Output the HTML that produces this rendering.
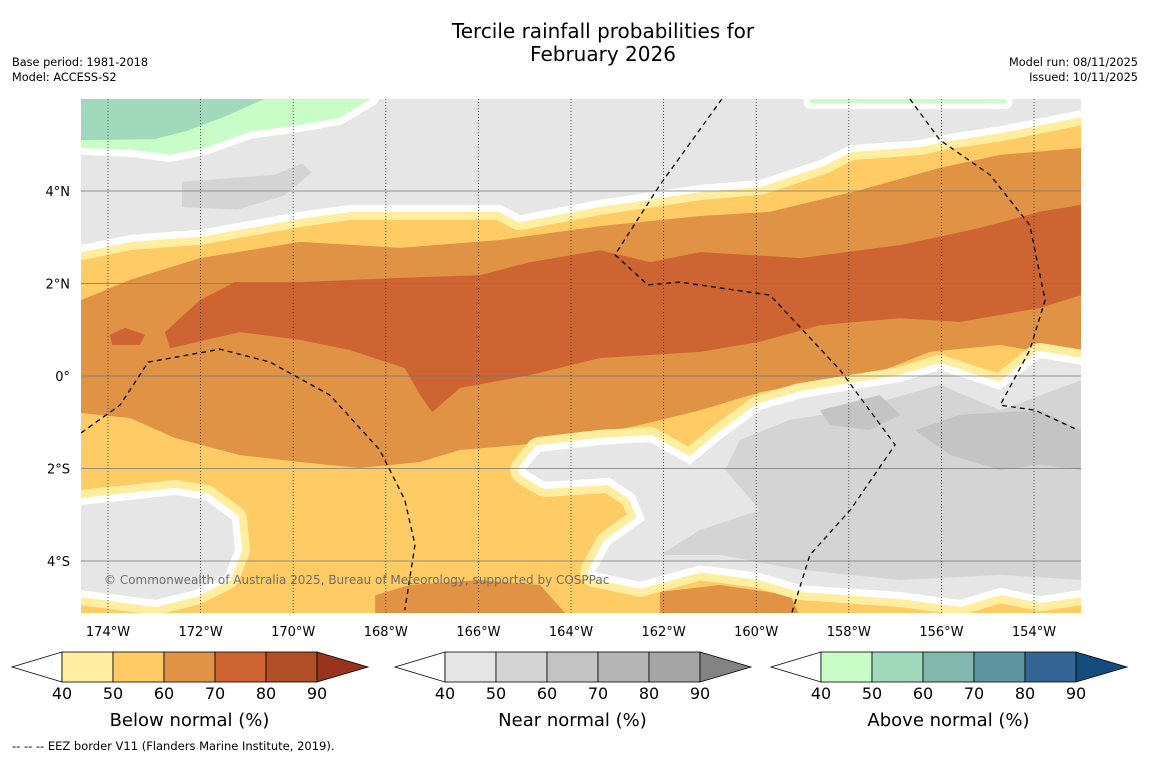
<!DOCTYPE html>
<html><head><meta charset="utf-8"><style>
body{margin:0;background:#fff;width:1150px;height:758px;overflow:hidden;font-family:"DejaVu Sans","Liberation Sans",sans-serif}
svg{position:absolute;left:0;top:0}
</style></head><body>
<svg id="s" width="1150" height="758" xmlns="http://www.w3.org/2000/svg">
<text x="603" y="38" font-size="20" text-anchor="middle">Tercile rainfall probabilities for</text>
<text x="603" y="61" font-size="20" text-anchor="middle">February 2026</text>
<text x="12" y="66" font-size="11.3">Base period: 1981-2018</text>
<text x="12" y="81" font-size="11.3">Model: ACCESS-S2</text>
<text x="1138" y="66" font-size="11.3" text-anchor="end">Model run: 08/11/2025</text>
<text x="1138" y="81" font-size="11.3" text-anchor="end">Issued: 10/11/2025</text>
<defs><clipPath id="mc"><rect x="81" y="99" width="1000" height="514"/></clipPath></defs>
<g id="map" clip-path="url(#mc)"></g>
<g id="axes"></g>
<g id="cbars"></g>
<text x="12" y="750" font-size="11.5">--  --  -- EEZ border V11 (Flanders Marine Institute, 2019).</text>
</svg>
<script>
const lonTicks=[-174,-172,-170,-168,-166,-164,-162,-160,-158,-156,-154];
const latTicks=[4,2,0,-2,-4];
const latLabels=["4°N","2°N","0°","2°S","4°S"];
const cbarTicks=[40,50,60,70,80,90];
const belowColors=["#ffeda0","#fecb65","#e09245","#cd6432","#b04e27","#97331e"];
const nearColors=["#e6e6e6","#d4d4d4","#c4c4c4","#b5b5b5","#a5a5a5","#838383"];
const aboveColors=["#c8fdc8","#a1d9bc","#82b7ae","#5e95a0","#336695","#144c7d"];
const orangeBand=[[-174.58,1.64],[-173.52,2.08],[-172.01,2.55],[-169.85,2.9],[-167.69,2.77],[-165.53,2.94],[-163.37,3.24],[-161.21,3.46],[-159.7,3.55],[-157.76,4.02],[-156.03,4.5],[-154.73,4.78],[-152.98,4.93],[-152.5,4.93],[-152.5,0.45],[-152.98,0.45],[-153.87,0.52],[-154.73,0.67],[-156.25,0.52],[-157.33,0.09],[-159.05,-0.19],[-159.92,-0.35],[-161.21,-0.74],[-162.51,-1.06],[-163.81,-1.34],[-165.1,-1.49],[-166.4,-1.6],[-167.26,-1.86],[-168.56,-1.99],[-169.85,-1.86],[-171.15,-1.71],[-172.55,-1.34],[-173.52,-0.91],[-174.58,-0.8],[-175,-0.8],[-175,1.64]];
const darkOrange=[[-172.77,0.95],[-172.01,1.64],[-171.26,2.03],[-169.85,2.03],[-167.69,2.12],[-165.97,2.18],[-164.89,2.46],[-163.37,2.72],[-162.29,2.46],[-161.21,2.68],[-159.05,2.55],[-156.89,2.83],[-155.17,3.2],[-153.87,3.55],[-152.98,3.7],[-152.5,3.7],[-152.5,1.75],[-152.98,1.75],[-153.87,1.47],[-155.6,1.17],[-156.89,1.25],[-158.62,1.1],[-159.92,0.74],[-161.21,0.52],[-163.37,0.39],[-164.89,0.02],[-166.4,-0.26],[-167.0,-0.78],[-167.26,-0.41],[-167.59,0.17],[-168.77,0.56],[-169.85,0.78],[-171.15,0.95],[-172.66,0.6]];
const darkOrangeBlob=[[-173.96,0.89],[-173.63,1.04],[-173.2,0.89],[-173.31,0.67],[-173.91,0.67]];
const bottomOrange1=[[-168.23,-4.74],[-167.48,-4.52],[-165.97,-4.41],[-164.67,-4.52],[-164.13,-5.12],[-164.13,-5.4],[-168.23,-5.4]];
const bottomOrange2=[[-162.08,-4.67],[-160.78,-4.52],[-159.27,-4.74],[-159.05,-5.2],[-159.05,-5.4],[-162.08,-5.4]];
const topGray=[[-175,6.5],[-152.5,6.5],[-152.5,5.75],[-152.98,5.75],[-154.73,5.4],[-156.03,5.2],[-156.46,5.1],[-157.97,4.99],[-158.62,4.67],[-159.92,4.24],[-161.21,4.13],[-163.37,3.81],[-165.1,3.48],[-165.53,3.7],[-168.77,3.7],[-169.85,3.55],[-172.01,3.16],[-173.52,3.05],[-174.58,2.83],[-175,2.83]];
const topGrayDark=[[-172.4,4.2],[-170.4,4.35],[-169.8,4.6],[-169.6,4.4],[-170.2,3.9],[-171.2,3.6],[-172.4,3.65]];
const topGreen=[[-175,6.5],[-168.3,6.5],[-168.3,6],[-169,5.58],[-169.85,5.43],[-170.93,5.28],[-171.9,4.93],[-172.66,4.78],[-173.52,4.89],[-174.58,4.93],[-175,4.93]];
const topTeal=[[-175,6.5],[-170.6,6.5],[-170.6,6],[-171.5,5.6],[-172.3,5.3],[-173,5.12],[-174.58,5.1],[-175,5.1]];
const topRightGreen=[[-158.84,6.5],[-158.84,5.9],[-154.6,5.9],[-154.6,6.5]];
const brGray=[[-152.5,0.24],[-152.98,0.24],[-153.87,0.39],[-154.73,-0.3],[-156.03,0.13],[-156.89,-0.13],[-159.05,-0.48],[-159.92,-0.74],[-160.78,-1.38],[-161.43,-1.92],[-162.29,-1.43],[-163.37,-1.49],[-164.67,-1.64],[-164.99,-2.03],[-164.56,-2.29],[-163.16,-2.2],[-162.62,-2.57],[-162.4,-3.11],[-163.16,-3.65],[-163.48,-4.24],[-162.51,-4.45],[-161.21,-4.09],[-159.92,-4.26],[-159.05,-4.52],[-156.89,-4.67],[-155.6,-4.84],[-154.73,-4.58],[-153.87,-4.76],[-152.98,-4.63],[-152.5,-4.63]];
const brGrayMid=[[-152.5,-0.09],[-152.98,-0.09],[-154.73,-0.74],[-156.03,-0.19],[-157.97,-0.74],[-159.27,-0.95],[-160.35,-1.38],[-160.67,-2.03],[-159.92,-2.9],[-161.21,-3.33],[-162.08,-3.87],[-160.78,-3.87],[-159.05,-4.19],[-156.89,-4.41],[-154.73,-4.3],[-152.98,-4.41],[-152.5,-4.41]];
const brGrayDark1=[[-158.62,-0.74],[-157.33,-0.41],[-156.89,-0.84],[-157.54,-1.17],[-158.41,-1.06]];
const brGrayDark2=[[-156.57,-1.17],[-155.6,-0.84],[-153.87,-0.74],[-152.98,-1.17],[-152.5,-1.17],[-152.5,-2.03],[-152.98,-2.03],[-153.87,-1.92],[-154.73,-2.03],[-155.81,-1.71]];
const blGray=[[-175,-2.79],[-174.58,-2.79],[-173.52,-2.68],[-172.55,-2.57],[-171.9,-2.68],[-171.32,-3.11],[-171.26,-3.76],[-171.47,-4.3],[-172.12,-4.63],[-172.98,-4.84],[-173.74,-4.74],[-174.58,-4.63],[-175,-4.63]];
const eezA=[[-174.58,-1.23],[-173.74,-0.63],[-173.13,0.3],[-171.58,0.58],[-170.5,0.3],[-169.21,-0.41],[-168.13,-1.6],[-167.59,-2.68],[-167.37,-3.65],[-167.59,-5.06]];
const eezB=[[-160.74,5.99],[-162.08,4.13],[-163.05,2.62],[-162.34,1.97],[-161.65,2.03],[-159.7,1.75],[-158.19,0.13],[-157.0,-1.49],[-157.97,-2.9],[-158.84,-3.87],[-159.23,-5.12]];
const eezC=[[-156.68,5.99],[-156.03,5.1],[-154.95,4.35],[-154.09,3.26],[-153.76,1.64],[-154.09,0.56],[-154.73,-0.63],[-153.98,-0.74],[-153.05,-1.17]];

const NS="http://www.w3.org/2000/svg";
const X=lon=>108+(lon+174)*46.3;
const Y=lat=>376-lat*46.25;
const map=document.getElementById('map'),axes=document.getElementById('axes'),cb=document.getElementById('cbars');
function mk(tag,attrs,parent){const e=document.createElementNS(NS,tag);for(const k in attrs)e.setAttribute(k,attrs[k]);parent.appendChild(e);return e;}
function pts(a){return a.map(p=>X(p[0]).toFixed(1)+','+Y(p[1]).toFixed(1)).join(' ');}
function poly(a,fill,name,strokes){
  (strokes||[]).forEach(s=>{const e=mk('polygon',{points:pts(a),fill:'none',stroke:s[0],'stroke-width':s[1],'stroke-linejoin':'round'},map);
    
    });
  const e=mk('polygon',{points:pts(a),fill:fill},map);
  
  
}
const bg=mk('rect',{x:81,y:99,width:1000,height:514,fill:belowColors[1]},map);


poly(orangeBand,belowColors[2],'below-60-70-region');
poly(darkOrange,belowColors[3],'below-70-80-region');
poly(darkOrangeBlob,belowColors[3],'below-70-80-blob');
poly(bottomOrange1,belowColors[2],'below-60-70-south-patch');
poly(bottomOrange2,belowColors[2],'below-60-70-south-patch-2');
poly(topGray,nearColors[0],'near-normal-north-region',[[belowColors[0],30],['#fff',14]]);
poly(topGrayDark,nearColors[1],'near-normal-50-north-blob');
poly(topGreen,aboveColors[0],'above-40-50-region',[['#fff',14]]);
poly(topTeal,aboveColors[1],'above-50-60-region');
poly(topRightGreen,aboveColors[0],'above-40-50-northeast',[['#fff',12]]);
poly(brGray,nearColors[0],'near-normal-southeast-region',[[belowColors[0],30],['#fff',14]]);
poly(brGrayMid,nearColors[1],'near-normal-50-southeast');
poly(brGrayDark1,nearColors[2],'near-normal-60-blob');
poly(brGrayDark2,nearColors[2],'near-normal-60-blob-2');
poly(blGray,nearColors[0],'near-normal-southwest-region',[[belowColors[0],30],['#fff',14]]);
latTicks.forEach((t,i)=>{const l=mk('line',{x1:81,x2:1081,y1:Y(t),y2:Y(t),stroke:'#777','stroke-width':0.8},map);
  
  
  const tx=mk('text',{x:70,y:Y(t)+5,'font-size':13,'text-anchor':'end'},axes);tx.textContent=latLabels[i];
  
  });
lonTicks.forEach(t=>{const l=mk('line',{x1:X(t),x2:X(t),y1:99,y2:613,stroke:'#333','stroke-width':0.8,'stroke-dasharray':'1,2'},map);
  
  
  const tx=mk('text',{x:X(t),y:636,'font-size':13,'text-anchor':'middle'},axes);tx.textContent=Math.abs(t)+'°W';
  
  });
[eezA,eezB,eezC].forEach(a=>{const l=mk('polyline',{points:pts(a),fill:'none',stroke:'#000','stroke-width':1.3,'stroke-dasharray':'5,4'},map);
  
  });
const cp=mk('text',{x:104,y:584,'font-size':12,fill:'#6e6e6e'},map);cp.textContent='© Commonwealth of Australia 2025, Bureau of Meteorology, supported by COSPPac';


function cbar(x0,colors,title,name){
  const w=51,y0=652,h=30,left=x0-50,end=x0+5*w;
  const t1=mk('polygon',{points:`${left},${y0+h/2} ${x0},${y0} ${x0},${y0+h}`,fill:'#fff',stroke:'#000','stroke-width':0.8},cb);
  
  
  for(let i=0;i<5;i++){const r=mk('rect',{x:x0+i*w,y:y0,width:w,height:h,fill:colors[i],stroke:'#000','stroke-width':0.8},cb);
    
    }
  const t2=mk('polygon',{points:`${end},${y0} ${end+51},${y0+h/2} ${end},${y0+h}`,fill:colors[5],stroke:'#000','stroke-width':0.8},cb);
  
  
  cbarTicks.forEach((v,i)=>{const t=mk('text',{x:x0+i*w,y:699,'font-size':16,'text-anchor':'middle'},cb);t.textContent=v;
    
    });
  const tt=mk('text',{x:x0+2.5*w,y:726,'font-size':18,'text-anchor':'middle'},cb);tt.textContent=title;
  
  
}
cbar(62,belowColors,'Below normal (%)','below-colorbar');
cbar(445,nearColors,'Near normal (%)','near-colorbar');
cbar(821,aboveColors,'Above normal (%)','above-colorbar');
</script>
</body></html>
